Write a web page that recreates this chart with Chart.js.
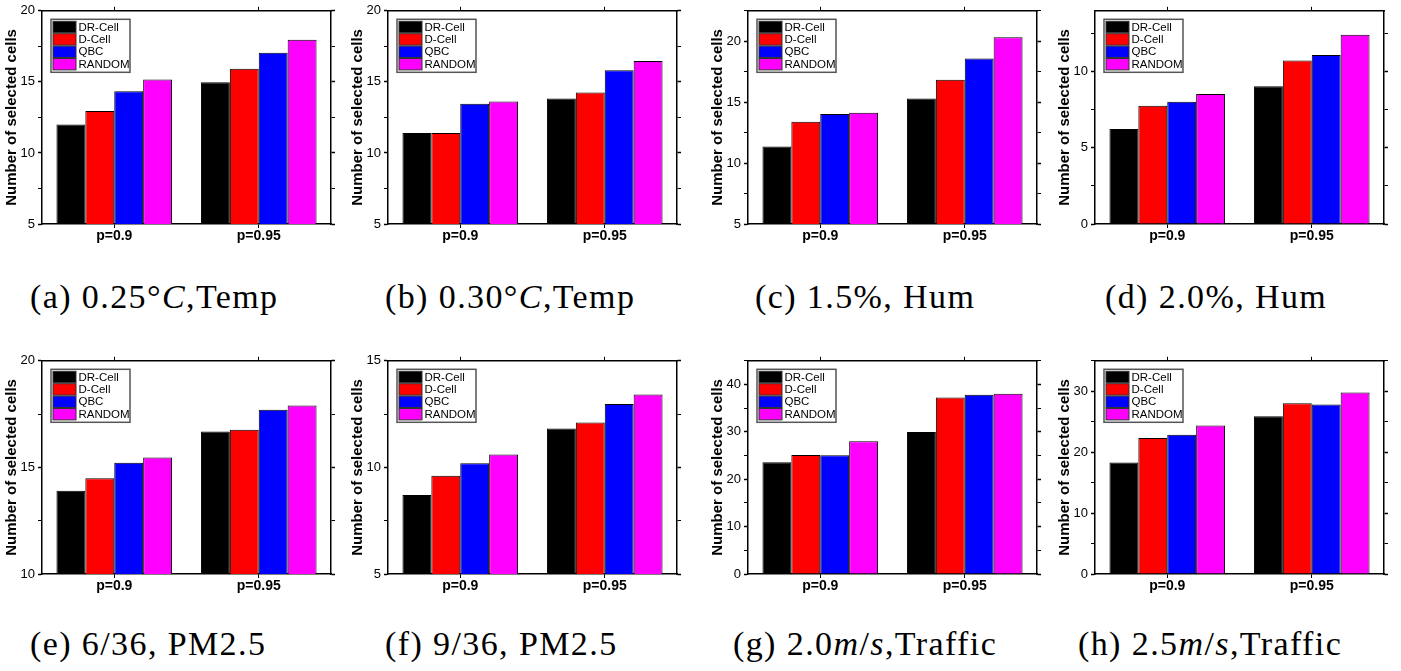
<!DOCTYPE html>
<html lang="en">
<head>
  <meta charset="UTF-8" />
  <title>Number of selected cells</title>
  <script src="https://cdn.jsdelivr.net/npm/chart.js"></script>
  <style>
    body {
      margin: 0;
      background: #fff;
      width: 1401px;
      height: 671px;
      position: relative;
      overflow: hidden;
    }
    canvas.panel { position: absolute; }
    .caption {
      position: absolute;
      font-family: 'Liberation Serif', 'Times New Roman', serif;
      font-size: 34px;
      line-height: 34px;
      letter-spacing: 1.4px;
      color: #000;
      white-space: nowrap;
    }
  </style>
</head>
<body>
  <script>
    // categories and series
    const groups = ["p=0.9", "p=0.95"];
    const methods = ["DR-Cell", "D-Cell", "QBC", "RANDOM"];
    const colors = ["#000000", "#ff0000", "#0000ff", "#ff00ff"];

    // one [p=0.9, p=0.95] pair per panel a..h
    const drCell = [[12.0, 14.97], [11.41, 13.83], [11.36, 15.30], [6.24, 9.04], [13.90, 16.68], [8.71, 11.83], [23.58, 29.96], [18.29, 25.91]];
    const dCell  = [[12.95, 15.92], [11.41, 14.25], [13.40, 16.85], [7.76, 10.74], [14.49, 16.77], [9.61, 12.11], [25.12, 37.26], [22.32, 28.03]];
    const qbc    = [[14.34, 17.04], [13.46, 15.81], [14.02, 18.59], [8.02, 11.09], [15.22, 17.70], [10.19, 12.97], [25.05, 37.82], [22.86, 27.82]];
    const random = [[15.16, 17.97], [13.62, 16.46], [14.13, 20.33], [8.54, 12.43], [15.47, 17.90], [10.61, 13.42], [28.0, 38.04], [24.39, 29.78]];

    // y axis ranges per panel
    const yMin   = [5, 5, 5, 0, 10, 5, 0, 0];
    const yMax   = [20, 20, 22.5, 14, 20, 15, 45, 35];
    const yMajor = [5, 5, 5, 5, 5, 5, 10, 10];

    const captions = [
      "(a) 0.25°<i>C</i>,Temp",
      "(b) 0.30°<i>C</i>,Temp",
      "(c) 1.5%, Hum",
      "(d) 2.0%, Hum",
      "(e) 6/36, PM2.5",
      "(f) 9/36, PM2.5",
      "(g) 2.0<i>m</i>/<i>s</i>,Traffic",
      "(h) 2.5<i>m</i>/<i>s</i>,Traffic",
    ];

    // page layout
    const areaLeft = [42, 388, 748, 1095];
    const capLeft = [30, 385, 755, 1105, 30, 385, 733, 1078];
    const rowTop = [0, 350];
    const capTop = [280, 627];

    const sans = '"Liberation Sans", Arial, sans-serif';

    // legend drawn inside the plot, top-left, framed
    const boxLegend = {
      id: "boxLegend",
      afterDatasetsDraw(chart) {
        const ctx = chart.ctx;
        const a = chart.chartArea;
        const x = a.left + 9, y = a.top + 8.5;
        ctx.save();
        ctx.fillStyle = "#fff";
        ctx.fillRect(x, y, 79, 53);
        ctx.strokeStyle = "#555";
        ctx.lineWidth = 1.5;
        ctx.strokeRect(x, y, 79, 53);
        ctx.font = "11.5px " + sans;
        ctx.textBaseline = "middle";
        chart.data.datasets.forEach((ds, i) => {
          const ry = y + 2 + i * 12.4;
          ctx.fillStyle = ds.backgroundColor;
          ctx.fillRect(x + 2, ry, 23, 11.4);
          ctx.strokeStyle = "#333";
          ctx.lineWidth = 1;
          ctx.strokeRect(x + 2, ry, 23, 11.4);
          ctx.fillStyle = "#000";
          ctx.fillText(ds.label, x + 27.5, ry + 6.2);
        });
        ctx.restore();
      },
    };

    const series = [drCell, dCell, qbc, random];

    for (let p = 0; p < 8; p++) {
      const col = p % 4, row = Math.floor(p / 4);

      const canvas = document.createElement("canvas");
      canvas.className = "panel";
      canvas.width = 345;
      canvas.height = 260;
      canvas.style.left = (areaLeft[col] - 42) + "px";
      canvas.style.top = rowTop[row] + "px";
      document.body.appendChild(canvas);

      const cap = document.createElement("div");
      cap.className = "caption";
      cap.innerHTML = captions[p];
      cap.style.left = capLeft[p] + "px";
      cap.style.top = capTop[row] + "px";
      document.body.appendChild(cap);

      const major = yMajor[p];
      const frame = { display: true, color: "#000", width: 1.5 };
      const xGrid = { display: true, drawOnChartArea: false, drawTicks: true, tickLength: 4, color: "#000", offset: false };
      const yGrid = {
        display: true, drawOnChartArea: false, drawTicks: true, tickLength: 4, color: "#000",
        tickWidth: (c) => (c.tick && c.tick.value % major === 0 ? 1.5 : 1),
      };

      new Chart(canvas.getContext("2d"), {
        type: "bar",
        data: {
          labels: groups,
          datasets: methods.map((m, i) => ({
            label: m,
            data: series[i][p],
            backgroundColor: colors[i],
            borderColor: "#000",
            borderWidth: 1,
            barPercentage: 1.0,
            categoryPercentage: 0.8,
          })),
        },
        options: {
          responsive: false,
          animation: false,
          layout: { padding: 0 },
          plugins: {
            legend: { display: false },
            tooltip: { enabled: false },
          },
          scales: {
            x: {
              position: "bottom",
              offset: true,
              grid: xGrid,
              border: frame,
              ticks: { color: "#000", font: { family: sans, size: 14, weight: "bold" }, padding: 0, maxRotation: 0 },
              afterFit: (s) => { s.height = 36; },
            },
            x2: {
              type: "category",
              position: "top",
              offset: true,
              grid: xGrid,
              border: frame,
              ticks: { display: false },
              afterFit: (s) => { s.height = 9; },
            },
            y: {
              position: "left",
              min: yMin[p],
              max: yMax[p],
              grid: yGrid,
              border: frame,
              ticks: {
                stepSize: major / 2,
                includeBounds: false,
                autoSkip: false,
                color: "#000",
                padding: 3,
                font: { family: sans, size: 13 },
                callback: (v) => (v % major === 0 ? v : ""),
              },
              title: {
                display: true,
                text: "Number of selected cells",
                color: "#000",
                font: { family: sans, size: 15, weight: "bold" },
                padding: { top: 3, bottom: 0 },
              },
              afterFit: (s) => { s.width = 42; },
            },
            y2: {
              position: "right",
              min: yMin[p],
              max: yMax[p],
              grid: yGrid,
              border: frame,
              ticks: { display: false, stepSize: major / 2, includeBounds: false, autoSkip: false },
              afterFit: (s) => { s.width = 14; },
            },
          },
        },
        plugins: [boxLegend],
      });
    }
  </script>
</body>
</html>
